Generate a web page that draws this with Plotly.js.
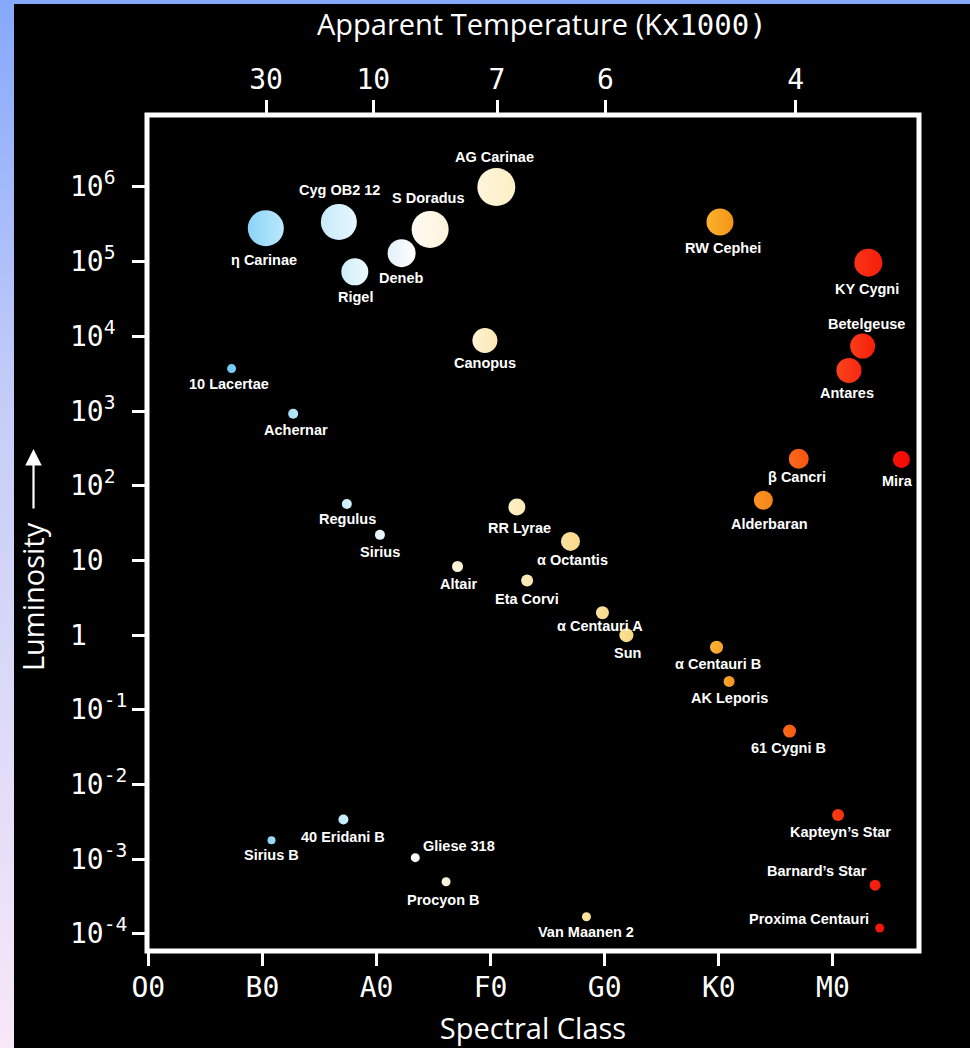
<!DOCTYPE html>
<html><head><meta charset="utf-8">
<script src="https://cdn.plot.ly/plotly-3.0.1.min.js"></script>
<style>
html,body{margin:0;padding:0;width:970px;height:1048px;overflow:hidden;
background:linear-gradient(to bottom,#86a8fc 0%,#c4cdf8 38%,#f8e8f8 100%);}
#chart{position:absolute;left:14px;top:4px;width:956px;height:1044px;}
</style></head><body><div id="chart"></div>
<script>
// ---- data ----
const starNames = ["η Carinae","Cyg OB2 12","Rigel","Deneb","S Doradus","AG Carinae","Canopus",
  "10 Lacertae","Achernar","RW Cephei","KY Cygni","Betelgeuse","Antares","β Cancri","Mira",
  "Alderbaran","Regulus","Sirius","RR Lyrae","α Octantis","Altair","Eta Corvi","α Centauri A",
  "Sun","α Centauri B","AK Leporis","61 Cygni B","Kapteyn’s Star","Barnard’s Star",
  "Proxima Centauri","Sirius B","40 Eridani B","Gliese 318","Procyon B","Van Maanen 2"];
// spectral class as numeric subclass (O0=0, B0=10, A0=20, F0=30, G0=40, K0=50, M0=60)
const spectralClass = [10.3,16.7,18.1,22.2,24.7,30.5,29.5,
  7.3,12.7,50.1,63.1,62.6,61.4,57.0,66.0,
  53.9,17.4,20.3,32.3,37.0,27.1,33.2,39.8,
  41.9,49.8,50.9,56.2,60.45,63.7,
  64.1,10.8,17.1,23.4,26.1,38.4];
// luminosity in solar units
const luminosity = [280000,340000,73000,130000,270000,1000000,8800,
  3700,920,340000,97000,7400,3500,230,225,
  64,57,22,52,18,8.3,5.4,2.0,
  1,0.69,0.24,0.052,0.0039,0.00045,
  0.00012,0.0018,0.0034,0.00105,0.0005,0.00017];
const classTickVals = [0,10,20,30,40,50,60];
const classTickText = ["O0","B0","A0","F0","G0","K0","M0"];
const tempTickVals = [10.32,19.72,30.56,40.07,56.73];
const tempTickText = ["30","10","7","6","4"];
const lumTickVals = [1e6,1e5,1e4,1e3,1e2,10,1,0.1,0.01,0.001,0.0001];
const lumTickText = ["10<sup>6</sup>","10<sup>5</sup>","10<sup>4</sup>","10<sup>3</sup>","10<sup>2</sup>",
  "10","1","10<sup>-1</sup>","10<sup>-2</sup>","10<sup>-3</sup>","10<sup>-4</sup>"];

// ---- styles ----
const markerSize = [36,36,27,28,37,38,25, 9,10,27,28,25,25,20,17, 19,10,10,17,19,11,12,13,
  14,13,11,13,12,11, 9,8,10,9,9,9];
const colorLeft = ["#8bd4f8","#c6eafa","#cfeefb","#e2f1f9","#fdfaf2","#fef6dc","#fdf3d2",
  "#6fc8f3","#a8e0f9","#fbb22e","#fa3418","#f93c18","#f9441a","#fa6a1c","#f81408",
  "#fb9424","#c4ecfb","#e0f3fb","#fdf0c8","#fce3a0","#fdf6e0","#fcebbc","#fbe3a0",
  "#fbe294","#fab236","#faa42c","#fa6a1c","#f93e14","#f82414",
  "#f81c10","#90d6f8","#c0eafb","#ffffff","#fff6e6","#fbe4a4"];
const colorRight = ["#bbe8fc","#e8f7fe","#edf9fe","#ffffff","#fff3dc","#fdefc4","#fbe8b6",
  "#80d0f6","#b8e6fb","#f59416","#f51e08","#f61e08","#f72610","#f55410","#f00806",
  "#f58418","#d4f2fc","#eef9fd","#fbe8b4","#f9d888","#fbefcc","#fae3aa","#f9da8c",
  "#f8d880","#f6a22a","#f69820","#f45a10","#f4300c","#f2180c",
  "#f0100a","#a0dcfa","#d2f0fc","#f4f8fa","#fcefd8","#f8dc90"];
const labelDx = [-2,1,1,-1,-2,-2,0, -3,3,3,-1,3.5,-2,-2,-4, 6,1,0,3,2,1,0,-2, 1,1,0,-1,2.5,-58, -70.5,0,0,44,-3,0];
const labelDy = [32,-31.5,25,25,-31,-30,23, 15,16,26,26,-22,23,18,22, 24,15,17,21.5,19,17,19,13, 18,17,16.5,17,17,-14.6, -9.3,15,17,-12,18,15];

const MONO = "DejaVu Sans Mono";
const SANS = "Open Sans";

const trace = {
  type: "scatter", mode: "markers",
  x: spectralClass, y: luminosity, text: starNames, hoverinfo: "text",
  marker: {size: markerSize, color: colorLeft, opacity: 1,
    gradient: {type: "horizontal", color: colorRight}, line: {width: 0}},
  cliponaxis: false
};
// carrier so the top temperature axis is drawn (no visible marks)
const topAxisCarrier = {
  type: "scatter", mode: "markers", xaxis: "x2", yaxis: "y",
  x: tempTickVals, y: tempTickVals.map(() => null), hoverinfo: "skip", showlegend: false
};

const annotations = [];
starNames.forEach((n, i) => {
  annotations.push({x: spectralClass[i], y: Math.log10(luminosity[i]), xref: "x", yref: "y",
    text: n, showarrow: false, xanchor: "center", yanchor: "middle",
    xshift: labelDx[i], yshift: -labelDy[i],
    font: {family: "Liberation Sans, Arial, sans-serif", size: 14.5, color: "#ffffff", weight: "bold"}});
});
lumTickVals.forEach((v, i) => {
  annotations.push({x: -0.1023, xref: "paper", y: Math.log10(v), yref: "y", text: lumTickText[i],
    showarrow: false, xanchor: "left", yanchor: "middle",
    yshift: lumTickText[i].indexOf("<sup>") >= 0 ? 2 : 0,
    font: {family: MONO, size: 28, color: "#ffffff"}});
});
// y-axis title with its upward arrow
annotations.push({x: -0.1480, xref: "paper", y: 0.4242, yref: "paper", text: "Luminosity",
  textangle: -90, showarrow: false, xanchor: "center", yanchor: "middle",
  font: {family: SANS, size: 29, color: "#ffffff"}});
annotations.push({x: -0.1470, xref: "paper", y: 0.6005, yref: "paper", text: "",
  showarrow: true, ax: 0, ay: 61, axref: "pixel", ayref: "pixel",
  arrowhead: 2, arrowsize: 1.5, arrowwidth: 2.2, arrowcolor: "#ffffff", standoff: 0, startstandoff: 0});

const tickCommon = {ticks: "outside", ticklen: 14, tickwidth: 3, tickcolor: "#ffffff",
  showgrid: false, zeroline: false, showline: false, automargin: false};

const layout = {
  width: 956, height: 1044,
  margin: {l: 133, r: 51, t: 111, b: 97, pad: 0},
  paper_bgcolor: "#000000", plot_bgcolor: "#000000",
  showlegend: false,
  title: {text: "Apparent Temperature (K<span style=\"font-family:DejaVu Sans Mono\">x1000)</span>",
    x: 0.5115, xref: "paper", xanchor: "center", y: 0.9805, yref: "container", yanchor: "middle",
    font: {family: SANS, size: 29, color: "#ffffff"}},
  xaxis: Object.assign({}, tickCommon, {
    range: [-0.111, 67.54], tickmode: "array", tickvals: classTickVals, ticktext: classTickText,
    tickfont: {family: MONO, size: 28, color: "#ffffff"}, ticklabelstandoff: -3,
    title: {text: "Spectral Class", font: {family: SANS, size: 29, color: "#ffffff"}, standoff: 16}
  }),
  xaxis2: Object.assign({}, tickCommon, {
    overlaying: "x", side: "top", anchor: "y",
    range: [-0.111, 67.54], tickmode: "array", tickvals: tempTickVals, ticktext: tempTickText,
    tickfont: {family: MONO, size: 28, color: "#ffffff"}
  }),
  yaxis: Object.assign({}, tickCommon, {
    type: "log", range: [-4.228, 6.963], tickmode: "array", tickvals: lumTickVals,
    showticklabels: false
  }),
  shapes: [{type: "rect", xref: "paper", yref: "paper", x0: 0, x1: 1, y0: 0, y1: 1,
    line: {color: "#ffffff", width: 5}, layer: "above"}],
  annotations: annotations
};

Plotly.newPlot("chart", [trace, topAxisCarrier], layout, {displayModeBar: false, staticPlot: true});
</script></body></html>
